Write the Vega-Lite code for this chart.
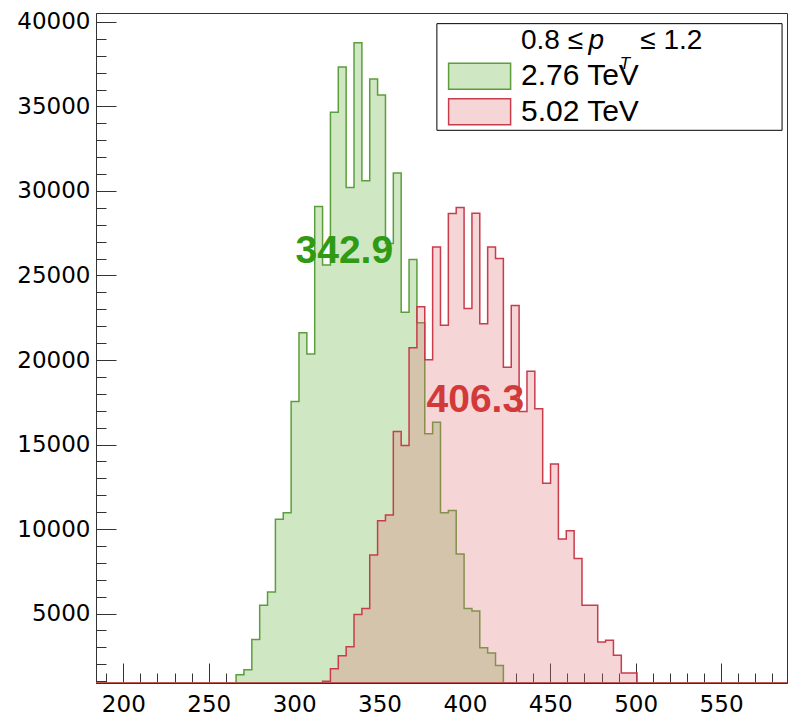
{
  "$schema": "https://vega.github.io/schema/vega-lite/v6.json",
  "width": 691,
  "height": 670,
  "autosize": "none",
  "padding": {"left": 96, "top": 13, "right": 2, "bottom": 38},
  "background": "white",
  "config": {
    "font": "Liberation Sans",
    "view": {"stroke": "#333"},
    "axis": {"grid": false, "title": null, "labelFont": "DejaVu Sans", "labelFontSize": 23, "labelColor": "#000", "tickColor": "#333", "domainColor": "#333", "labelOverlap": false, "labelFlush": false}
  },
  "datasets": {
    "hist": [
      {"series": "2.76 TeV", "lo": 179, "count": 0},
      {"series": "2.76 TeV", "lo": 266.03, "count": 1380},
      {"series": "2.76 TeV", "lo": 270.63, "count": 1680},
      {"series": "2.76 TeV", "lo": 275.24, "count": 3460},
      {"series": "2.76 TeV", "lo": 279.84, "count": 5490},
      {"series": "2.76 TeV", "lo": 284.44, "count": 6280},
      {"series": "2.76 TeV", "lo": 289.05, "count": 10580},
      {"series": "2.76 TeV", "lo": 293.65, "count": 10970},
      {"series": "2.76 TeV", "lo": 298.25, "count": 17550},
      {"series": "2.76 TeV", "lo": 302.85, "count": 21610},
      {"series": "2.76 TeV", "lo": 307.46, "count": 20360},
      {"series": "2.76 TeV", "lo": 312.06, "count": 29080},
      {"series": "2.76 TeV", "lo": 316.66, "count": 25620},
      {"series": "2.76 TeV", "lo": 321.27, "count": 34660},
      {"series": "2.76 TeV", "lo": 325.87, "count": 37340},
      {"series": "2.76 TeV", "lo": 330.47, "count": 30210},
      {"series": "2.76 TeV", "lo": 335.08, "count": 38770},
      {"series": "2.76 TeV", "lo": 339.68, "count": 30600},
      {"series": "2.76 TeV", "lo": 344.28, "count": 36630},
      {"series": "2.76 TeV", "lo": 348.88, "count": 35680},
      {"series": "2.76 TeV", "lo": 353.49, "count": 26890},
      {"series": "2.76 TeV", "lo": 358.09, "count": 31060},
      {"series": "2.76 TeV", "lo": 362.69, "count": 22830},
      {"series": "2.76 TeV", "lo": 367.30, "count": 25950},
      {"series": "2.76 TeV", "lo": 371.90, "count": 22200},
      {"series": "2.76 TeV", "lo": 376.50, "count": 15630},
      {"series": "2.76 TeV", "lo": 381.11, "count": 16310},
      {"series": "2.76 TeV", "lo": 385.71, "count": 10970},
      {"series": "2.76 TeV", "lo": 390.31, "count": 11090},
      {"series": "2.76 TeV", "lo": 394.91, "count": 8520},
      {"series": "2.76 TeV", "lo": 399.52, "count": 5300},
      {"series": "2.76 TeV", "lo": 404.12, "count": 5150},
      {"series": "2.76 TeV", "lo": 408.72, "count": 2980},
      {"series": "2.76 TeV", "lo": 413.33, "count": 2660},
      {"series": "2.76 TeV", "lo": 417.93, "count": 1930},
      {"series": "2.76 TeV", "lo": 422.53, "count": 0},
      {"series": "2.76 TeV", "lo": 592, "count": 0},
      {"series": "5.02 TeV", "lo": 179, "count": 0},
      {"series": "5.02 TeV", "lo": 316.66, "count": 1000},
      {"series": "5.02 TeV", "lo": 321.27, "count": 1740},
      {"series": "5.02 TeV", "lo": 325.87, "count": 2500},
      {"series": "5.02 TeV", "lo": 330.47, "count": 3040},
      {"series": "5.02 TeV", "lo": 335.08, "count": 4950},
      {"series": "5.02 TeV", "lo": 339.68, "count": 5300},
      {"series": "5.02 TeV", "lo": 344.28, "count": 8460},
      {"series": "5.02 TeV", "lo": 348.88, "count": 10490},
      {"series": "5.02 TeV", "lo": 353.49, "count": 10830},
      {"series": "5.02 TeV", "lo": 358.09, "count": 15770},
      {"series": "5.02 TeV", "lo": 362.69, "count": 14940},
      {"series": "5.02 TeV", "lo": 367.30, "count": 20720},
      {"series": "5.02 TeV", "lo": 371.90, "count": 23150},
      {"series": "5.02 TeV", "lo": 376.50, "count": 20020},
      {"series": "5.02 TeV", "lo": 381.11, "count": 26680},
      {"series": "5.02 TeV", "lo": 385.71, "count": 22060},
      {"series": "5.02 TeV", "lo": 390.31, "count": 28670},
      {"series": "5.02 TeV", "lo": 394.91, "count": 29020},
      {"series": "5.02 TeV", "lo": 399.52, "count": 23050},
      {"series": "5.02 TeV", "lo": 404.12, "count": 28680},
      {"series": "5.02 TeV", "lo": 408.72, "count": 22140},
      {"series": "5.02 TeV", "lo": 413.33, "count": 26680},
      {"series": "5.02 TeV", "lo": 417.93, "count": 26000},
      {"series": "5.02 TeV", "lo": 422.53, "count": 19570},
      {"series": "5.02 TeV", "lo": 427.14, "count": 23230},
      {"series": "5.02 TeV", "lo": 431.74, "count": 16960},
      {"series": "5.02 TeV", "lo": 436.34, "count": 19330},
      {"series": "5.02 TeV", "lo": 440.95, "count": 17120},
      {"series": "5.02 TeV", "lo": 445.55, "count": 12710},
      {"series": "5.02 TeV", "lo": 450.15, "count": 13840},
      {"series": "5.02 TeV", "lo": 454.75, "count": 9410},
      {"series": "5.02 TeV", "lo": 459.36, "count": 9900},
      {"series": "5.02 TeV", "lo": 463.96, "count": 8260},
      {"series": "5.02 TeV", "lo": 468.56, "count": 5490},
      {"series": "5.02 TeV", "lo": 473.17, "count": 5490},
      {"series": "5.02 TeV", "lo": 477.77, "count": 3320},
      {"series": "5.02 TeV", "lo": 482.37, "count": 3420},
      {"series": "5.02 TeV", "lo": 486.98, "count": 2530},
      {"series": "5.02 TeV", "lo": 491.58, "count": 1480},
      {"series": "5.02 TeV", "lo": 496.18, "count": 1480},
      {"series": "5.02 TeV", "lo": 500.78, "count": 0},
      {"series": "5.02 TeV", "lo": 592, "count": 0}
    ]
  },
  "resolve": {"axis": {"x": "independent", "y": "independent"}},
  "layer": [
    {
      "data": {"name": "hist"},
      "mark": {"type": "area", "interpolate": "step-after", "clip": true, "strokeWidth": 1.5},
      "encoding": {
        "x": {"field": "lo", "type": "quantitative", "scale": {"domain": [184, 588.6], "nice": false, "zero": false},
          "axis": {"orient": "bottom", "values": [200, 250, 300, 350, 400, 450, 500, 550], "format": "d", "tickSize": -20, "labelPadding": 30}},
        "y": {"field": "count", "type": "quantitative", "stack": null, "scale": {"domain": [890, 40530], "nice": false, "zero": false, "clamp": true},
          "axis": {"orient": "left", "values": [5000, 10000, 15000, 20000, 25000, 30000, 35000, 40000], "format": "d", "tickSize": -20, "labelPadding": 26}},
        "fill": {"field": "series", "type": "nominal",
          "scale": {"domain": ["2.76 TeV", "5.02 TeV"], "range": ["#d0e7c3", "rgba(222,115,115,0.3)"]},
          "legend": {"orient": "none", "legendX": 340.7, "legendY": 10.3, "title": "\u00a0\u00a0\u00a0", "titleFont": "Liberation Sans", "titleFontSize": 28, "titlePadding": 6, "padding": 4, "symbolType": "M-1,-0.42H1V0.42H-1Z", "symbolSize": 3844, "symbolStrokeWidth": 1.5, "labelFont": "Liberation Sans", "labelFontSize": 30, "labelColor": "#000", "labelLimit": 400, "clipHeight": 30, "rowPadding": 5.5, "symbolOffset": 6.9, "labelOffset": 9.4}},
        "stroke": {"field": "series", "type": "nominal",
          "scale": {"domain": ["2.76 TeV", "5.02 TeV"], "range": ["#5c9e3c", "#c83c4c"]},
          "legend": {"orient": "none", "legendX": 340.7, "legendY": 10.3, "title": "\u00a0\u00a0\u00a0", "titleFont": "Liberation Sans", "titleFontSize": 28, "titlePadding": 6, "padding": 4, "symbolType": "M-1,-0.42H1V0.42H-1Z", "symbolSize": 3844, "symbolStrokeWidth": 1.5, "labelFont": "Liberation Sans", "labelFontSize": 30, "labelColor": "#000", "labelLimit": 400, "clipHeight": 30, "rowPadding": 5.5, "symbolOffset": 6.9, "labelOffset": 9.4}}
      }
    },
    {
      "data": {"values": [{}]},
      "mark": {"type": "rect", "fill": "white", "stroke": "#000", "strokeWidth": 1},
      "encoding": {
        "x": {"datum": 383.6, "axis": {"orient": "bottom", "values": [190, 200, 210, 220, 230, 240, 250, 260, 270, 280, 290, 300, 310, 320, 330, 340, 350, 360, 370, 380, 390, 400, 410, 420, 430, 440, 450, 460, 470, 480, 490, 500, 510, 520, 530, 540, 550, 560, 570, 580], "tickSize": -10, "labels": false, "domain": false}},
        "x2": {"datum": 585.7},
        "y": {"datum": 39900, "axis": {"orient": "left", "values": [1000, 2000, 3000, 4000, 5000, 6000, 7000, 8000, 9000, 10000, 11000, 12000, 13000, 14000, 15000, 16000, 17000, 18000, 19000, 20000, 21000, 22000, 23000, 24000, 25000, 26000, 27000, 28000, 29000, 30000, 31000, 32000, 33000, 34000, 35000, 36000, 37000, 38000, 39000, 40000], "tickSize": -10, "labels": false, "domain": false}},
        "y2": {"datum": 33590}
      }
    },
    {
      "data": {"values": [{}]},
      "mark": {"type": "text", "text": "342.9", "font": "Liberation Sans", "fontWeight": "bold", "fontSize": 39, "color": "#2f9a12", "baseline": "alphabetic"},
      "encoding": {"x": {"datum": 329.4, "axis": null}, "y": {"datum": 25719, "axis": null}}
    },
    {
      "data": {"values": [{}]},
      "mark": {"type": "text", "text": "406.3", "font": "Liberation Sans", "fontWeight": "bold", "fontSize": 39, "color": "#d23a3a", "baseline": "alphabetic"},
      "encoding": {"x": {"datum": 406.1, "axis": null}, "y": {"datum": 16922, "axis": null}}
    },
    {
      "data": {"values": [{}]},
      "mark": {"type": "text", "text": "0.8 ≤", "font": "Liberation Sans", "fontSize": 28, "color": "#000", "align": "left", "baseline": "alphabetic"},
      "encoding": {"x": {"datum": 432.85, "axis": null}, "y": {"datum": 38421, "axis": null}}
    },
    {
      "data": {"values": [{}]},
      "mark": {"type": "text", "text": "p", "font": "Liberation Sans", "fontStyle": "italic", "fontSize": 28, "color": "#000", "align": "left", "baseline": "alphabetic"},
      "encoding": {"x": {"datum": 472.3, "axis": null}, "y": {"datum": 38421, "axis": null}}
    },
    {
      "data": {"values": [{}]},
      "mark": {"type": "text", "text": "T", "font": "Liberation Sans", "fontStyle": "italic", "fontSize": 17, "color": "#000", "align": "left", "baseline": "alphabetic"},
      "encoding": {"x": {"datum": 490.6, "axis": null}, "y": {"datum": 37200, "axis": null}}
    },
    {
      "data": {"values": [{}]},
      "mark": {"type": "text", "text": "≤ 1.2", "font": "Liberation Sans", "fontSize": 28, "color": "#000", "align": "left", "baseline": "alphabetic"},
      "encoding": {"x": {"datum": 502.7, "axis": null}, "y": {"datum": 38421, "axis": null}}
    }
  ]
}
